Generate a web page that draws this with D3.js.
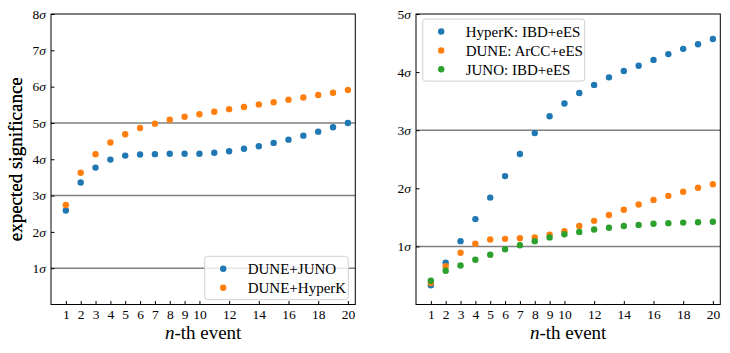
<!DOCTYPE html>
<html>
<head>
<meta charset="utf-8">
<script src="https://cdn.jsdelivr.net/npm/d3@7"></script>
<style>
  body { margin: 0; background: #fff; }
</style>
</head>
<body>
<svg id="chart" width="730" height="353"></svg>
<script>
// n-th event
const events = d3.range(1, 21);
const xTicks = [1, 2, 3, 4, 5, 6, 7, 8, 9, 10, 12, 14, 16, 18, 20];

// left panel
const duneJuno = [2.59, 3.36, 3.77, 3.99, 4.10, 4.13, 4.14, 4.15, 4.15, 4.15,
                  4.18, 4.22, 4.29, 4.36, 4.45, 4.54, 4.65, 4.76, 4.88, 5.00];
const duneHyperK = [2.74, 3.63, 4.14, 4.46, 4.69, 4.86, 4.98, 5.09, 5.17, 5.24,
                    5.31, 5.38, 5.44, 5.51, 5.57, 5.64, 5.70, 5.77, 5.83, 5.91];
const leftYTicks = [1, 2, 3, 4, 5, 6, 7, 8];
const leftLines = [1, 3, 5];

// right panel
const hyperK = [0.33, 0.72, 1.09, 1.47, 1.84, 2.21, 2.59, 2.95, 3.24, 3.46,
                3.64, 3.78, 3.91, 4.02, 4.11, 4.21, 4.31, 4.40, 4.48, 4.57];
const dune = [0.37, 0.66, 0.89, 1.045, 1.12, 1.13, 1.14, 1.155, 1.20, 1.26,
              1.35, 1.44, 1.54, 1.63, 1.72, 1.80, 1.87, 1.94, 2.01, 2.07];
const juno = [0.41, 0.58, 0.67, 0.77, 0.855, 0.95, 1.02, 1.09, 1.155, 1.21,
              1.25, 1.29, 1.32, 1.35, 1.37, 1.39, 1.40, 1.41, 1.415, 1.425];
const rightYTicks = [1, 2, 3, 4, 5];
const rightLines = [1, 3];

const blue = "#1f77b4", orange = "#ff7f0e", green = "#2ca02c";
const serif = '"Liberation Serif", "DejaVu Serif", serif';

const svg = d3.select("#chart");

function drawPanel(opt) {
    const w = 304.3, h = 290.5;
    const g = svg.append("g").attr("transform", `translate(${opt.left},14)`);

    const x = d3.scaleLinear().domain([0, 20.5]).range([0, w]);
    const y = d3.scaleLinear().domain([0, opt.ymax]).range([h, 0]);

    // reference lines
    g.selectAll(".ref")
        .data(opt.lines)
        .enter().append("line")
        .attr("x1", 0).attr("x2", w)
        .attr("y1", d => y(d)).attr("y2", d => y(d))
        .attr("stroke", "#808080")
        .attr("stroke-width", 1.5);

    // axes with inward ticks
    const xAxis = g.append("g")
        .attr("transform", `translate(0,${h})`)
        .call(d3.axisBottom(x).tickValues(xTicks).tickSizeInner(-3.5).tickSizeOuter(0).tickPadding(5));
    xAxis.select(".domain").remove();
    xAxis.selectAll("text").style("font-size", "13.5px");

    const yAxis = g.append("g")
        .call(d3.axisLeft(y).tickValues(opt.yTicks).tickSizeInner(-3.5).tickSizeOuter(0).tickPadding(5)
            .tickFormat(() => ""));
    yAxis.select(".domain").remove();
    yAxis.selectAll(".tick text").each(function (d) {
        const t = d3.select(this).style("font-size", "13.5px");
        t.append("tspan").text(d);
        t.append("tspan").attr("font-style", "italic").text("σ");
    });

    // frame
    g.append("rect")
        .attr("width", w).attr("height", h)
        .attr("fill", "none")
        .attr("stroke", "#000")
        .attr("stroke-width", 1);

    // points
    opt.series.forEach(s => {
        g.selectAll(null)
            .data(events)
            .enter().append("circle")
            .attr("cx", d => x(d))
            .attr("cy", (d, i) => y(s.values[i]))
            .attr("r", 3.2)
            .attr("fill", s.color);
    });

    // labels
    g.append("text")
        .attr("x", w / 2).attr("y", h + 34)
        .attr("text-anchor", "middle")
        .style("font-size", "19px")
        .html('<tspan font-style="italic">n</tspan>-th event');

    g.append("text")
        .attr("transform", "rotate(-90)")
        .attr("x", -h / 2).attr("y", -opt.left + 22)
        .attr("text-anchor", "middle")
        .style("font-size", "19px")
        .text("expected significance");

    // legend
    const lg = g.append("g").attr("transform", `translate(${opt.legend.x},${opt.legend.y})`);
    lg.append("rect")
        .attr("width", opt.legend.w).attr("height", 6 + opt.series.length * 18.7)
        .attr("rx", 3)
        .attr("fill", "#fff").attr("fill-opacity", 0.8)
        .attr("stroke", "#d0d0d0");
    opt.series.forEach((s, i) => {
        lg.append("circle")
            .attr("cx", 18.5).attr("cy", 12.5 + i * 18.9)
            .attr("r", 3.2).attr("fill", s.color);
        lg.append("text")
            .attr("x", 43).attr("y", 12.5 + i * 18.9)
            .attr("dy", "0.35em")
            .style("font-size", "15px")
            .text(s.name);
    });

    g.selectAll("text").attr("font-family", null).style("font-family", serif).attr("fill", "#000");
}

drawPanel({
    left: 51,
    ymax: 8,
    yTicks: leftYTicks,
    lines: leftLines,
    series: [
        { name: "DUNE+JUNO", values: duneJuno, color: blue },
        { name: "DUNE+HyperK", values: duneHyperK, color: orange }
    ],
    legend: { x: 153.7, y: 242.3, w: 143.6 }
});

drawPanel({
    left: 416,
    ymax: 5,
    yTicks: rightYTicks,
    lines: rightLines,
    series: [
        { name: "HyperK: IBD+eES", values: hyperK, color: blue },
        { name: "DUNE: ArCC+eES", values: dune, color: orange },
        { name: "JUNO: IBD+eES", values: juno, color: green }
    ],
    legend: { x: 6.7, y: 5, w: 162 }
});
</script>
</body>
</html>
